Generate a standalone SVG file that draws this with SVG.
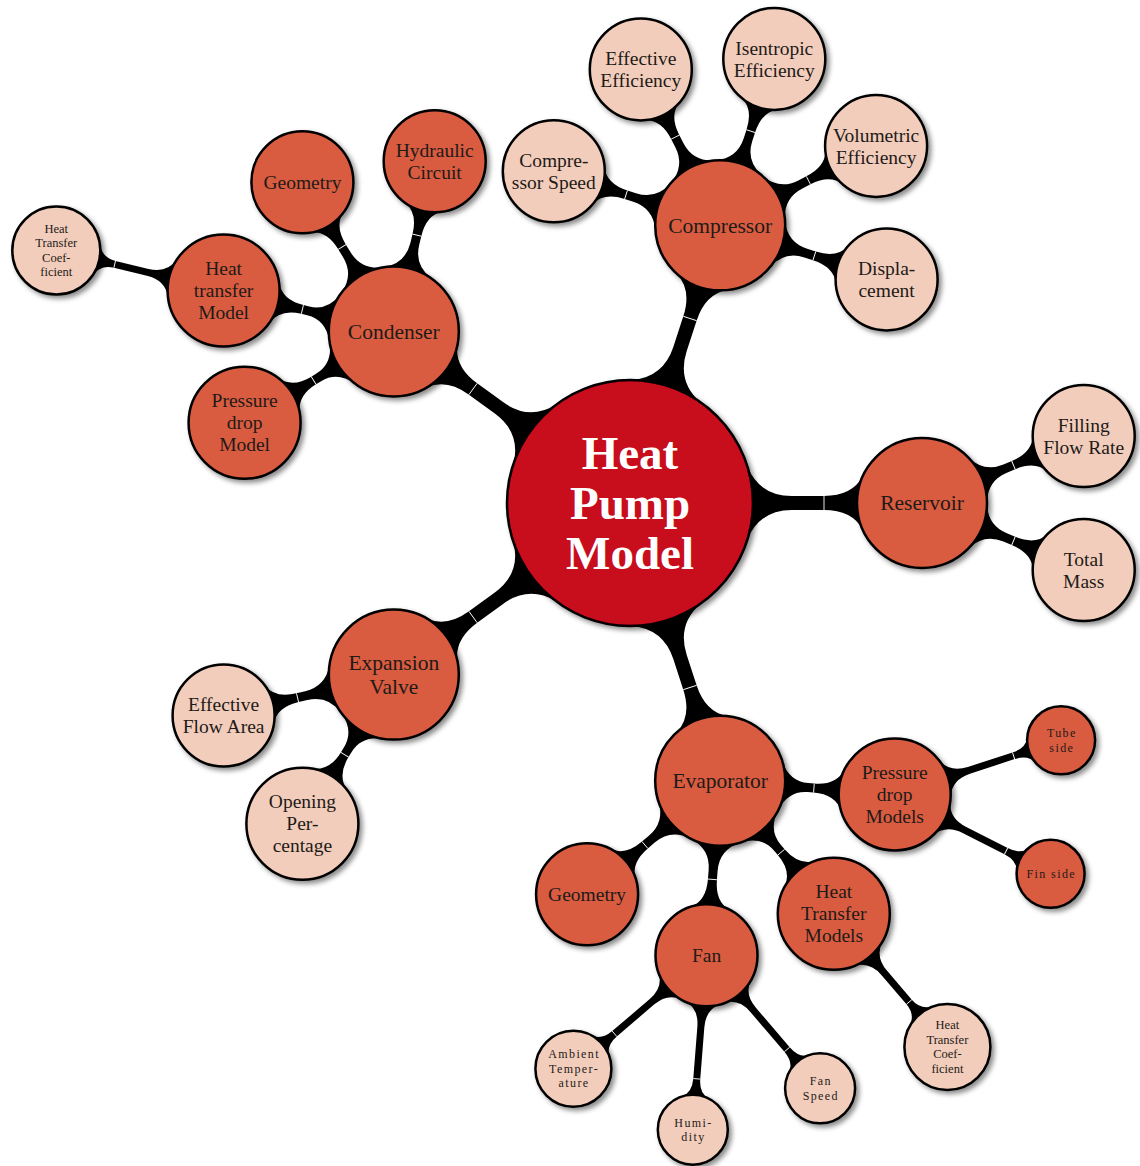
<svg xmlns="http://www.w3.org/2000/svg" width="1140" height="1166" viewBox="0 0 1140 1166">
  <style>
    .node { stroke: #000; stroke-width: 2.5; filter: url(#shadow); }
    .root { fill: #C8081E; }
    .mid { fill: #D95B41; }
    .leaf { fill: #F2CDBB; }
    text { font-family: "Liberation Serif", "Times New Roman", serif; text-anchor: middle; fill: #1e1a18; }
    .t0 { font-size: 47px; font-weight: bold; fill: #fff; }
    .t1 { font-size: 21.5px; }
    .t2 { font-size: 19.5px; }
    .t3 { font-size: 12.5px; }
    .t4 { font-size: 12px; letter-spacing: 1.4px; }
  </style>
  <defs>
    <filter id="shadow" x="-25%" y="-25%" width="160%" height="160%">
      <feGaussianBlur in="SourceAlpha" stdDeviation="2.5"/>
      <feOffset dx="3" dy="3" result="blur"/>
      <feFlood flood-color="#000" flood-opacity="0.45"/>
      <feComposite in2="blur" operator="in"/>
      <feMerge><feMergeNode/><feMergeNode in="SourceGraphic"/></feMerge>
    </filter>
    <!-- tapered connection bars, parent centre at origin, child centre on +x -->
    <g id="bar0">
      <path fill="#000" d="M0,0 L117.6,36 Q130,7 162,7 L194,7 Q222,7 232.6,26.4 L292,0 L232.6,-26.4 Q222,-7 194,-7 L162,-7 Q130,-7 117.6,-36 Z"/>
      <line x1="194" y1="-7" x2="194" y2="7" stroke="#fff" stroke-width="0.9"/>
    </g>
    <g id="bar1a">
      <path fill="#000" d="M0,0 L60.3,24.3 Q69,4.5 90,4.5 L99,4.5 Q121,4.5 127.7,19.1 L175,0 L127.7,-19.1 Q121,-4.5 99,-4.5 L90,-4.5 Q69,-4.5 60.3,-24.3 Z"/>
      <line x1="99" y1="-4.5" x2="99" y2="4.5" stroke="#fff" stroke-width="0.9"/>
    </g>
    <g id="bar1b">
      <path fill="#000" d="M0,0 L60.3,24.3 Q69,4.5 88,4.5 L94,4.5 Q116,4.5 123.1,21 L175,0 L123.1,-21 Q116,-4.5 94,-4.5 L88,-4.5 Q69,-4.5 60.3,-24.3 Z"/>
      <line x1="94" y1="-4.5" x2="94" y2="4.5" stroke="#fff" stroke-width="0.9"/>
    </g>
    <g id="bar2a">
      <path fill="#000" d="M0,0 L52.6,19.2 Q59,3.5 78,3.5 L112,3.5 Q126,3.5 131.2,16.5 L172,0 L131.2,-16.5 Q126,-3.5 112,-3.5 L78,-3.5 Q59,-3.5 52.6,-19.2 Z"/>
      <line x1="112" y1="-3.5" x2="112" y2="3.5" stroke="#fff" stroke-width="0.9"/>
    </g>
    <g id="bar2b">
      <path fill="#000" d="M0,0 L52.6,19.2 Q59,3.5 78,3.5 L125,3.5 Q139,3.5 143.5,12.7 L175,0 L143.5,-12.7 Q139,-3.5 125,-3.5 L78,-3.5 Q59,-3.5 52.6,-19.2 Z"/>
      <line x1="125" y1="-3.5" x2="125" y2="3.5" stroke="#fff" stroke-width="0.9"/>
    </g>
    <g id="bar2c">
      <path fill="#000" d="M0,0 L52.6,19.2 Q59,3.5 78,3.5 L116,3.5 Q130,3.5 135.1,16.1 L175,0 L135.1,-16.1 Q130,-3.5 116,-3.5 L78,-3.5 Q59,-3.5 52.6,-19.2 Z"/>
      <line x1="116" y1="-3.5" x2="116" y2="3.5" stroke="#fff" stroke-width="0.9"/>
    </g>
    <g id="bar2d">
      <path fill="#000" d="M0,0 L47.9,17.4 Q54,3.5 72,3.5 L121,3.5 Q135,3.5 139.8,14.2 L175,0 L139.8,-14.2 Q135,-3.5 121,-3.5 L72,-3.5 Q54,-3.5 47.9,-17.4 Z"/>
      <line x1="121" y1="-3.5" x2="121" y2="3.5" stroke="#fff" stroke-width="0.9"/>
    </g>
    <g id="bar2e">
      <path fill="#000" d="M0,0 L47.9,17.4 Q54,3.5 72,3.5 L124,3.5 Q138,3.5 142.5,13.1 L175,0 L142.5,-13.1 Q138,-3.5 124,-3.5 L72,-3.5 Q54,-3.5 47.9,-17.4 Z"/>
      <line x1="124" y1="-3.5" x2="124" y2="3.5" stroke="#fff" stroke-width="0.9"/>
    </g>
  </defs>

  <rect width="1140" height="1166" fill="#fff"/>

  <g id="connectors">
    <!-- root to first level -->
    <use href="#bar0" transform="translate(630 503) rotate(-72)"/>
    <use href="#bar0" transform="translate(630 503) rotate(-144)"/>
    <use href="#bar0" transform="translate(630 503) rotate(0)"/>
    <use href="#bar0" transform="translate(630 503) rotate(144)"/>
    <use href="#bar0" transform="translate(630 503) rotate(72)"/>
    <!-- compressor -->
    <use href="#bar1a" transform="translate(720.2 225.3) rotate(-162)"/>
    <use href="#bar1a" transform="translate(720.2 225.3) rotate(-117)"/>
    <use href="#bar1a" transform="translate(720.2 225.3) rotate(-72)"/>
    <use href="#bar1a" transform="translate(720.2 225.3) rotate(-27)"/>
    <use href="#bar1a" transform="translate(720.2 225.3) rotate(18)"/>
    <!-- condenser -->
    <use href="#bar1b" transform="translate(393.8 331.4) rotate(148.5)"/>
    <use href="#bar1b" transform="translate(393.8 331.4) rotate(193.5)"/>
    <use href="#bar1a" transform="translate(393.8 331.4) rotate(238.5)"/>
    <use href="#bar1a" transform="translate(393.8 331.4) rotate(283.5)"/>
    <use href="#bar2a" transform="translate(223.6 290.5) rotate(193.5)"/>
    <!-- reservoir -->
    <use href="#bar1a" transform="translate(922 503) rotate(-22.5)"/>
    <use href="#bar1a" transform="translate(922 503) rotate(22.5)"/>
    <!-- expansion valve -->
    <use href="#bar1a" transform="translate(393.8 674.6) rotate(166.5)"/>
    <use href="#bar1b" transform="translate(393.8 674.6) rotate(121.5)"/>
    <!-- evaporator -->
    <use href="#bar1b" transform="translate(720.2 780.7) rotate(4.5)"/>
    <use href="#bar1b" transform="translate(720.2 780.7) rotate(49.5)"/>
    <use href="#bar1a" transform="translate(720.2 780.7) rotate(94.5)"/>
    <use href="#bar1a" transform="translate(720.2 780.7) rotate(139.5)"/>
    <use href="#bar2b" transform="translate(894.7 794.4) rotate(-18)"/>
    <use href="#bar2b" transform="translate(894.7 794.4) rotate(27)"/>
    <use href="#bar2c" transform="translate(833.8 913.8) rotate(49.5)"/>
    <use href="#bar2d" transform="translate(706.5 955.2) rotate(139.5)"/>
    <use href="#bar2e" transform="translate(706.5 955.2) rotate(94.5)"/>
    <use href="#bar2e" transform="translate(706.5 955.2) rotate(49.5)"/>
  </g>

  <g id="heat-pump-model">
    <circle class="node root" cx="630" cy="503" r="123"/>
    <text class="t0"><tspan x="630" y="469">Heat</tspan><tspan x="630" y="519">Pump</tspan><tspan x="630" y="569">Model</tspan></text>
  </g>

  <!-- Compressor branch -->
  <g id="compressor">
    <circle class="node mid" cx="720.2" cy="225.3" r="65"/>
    <text class="t1" x="720.2" y="232.6">Compressor</text>
  </g>
  <g id="compressor-speed">
    <circle class="node leaf" cx="553.8" cy="171.2" r="51"/>
    <text class="t2"><tspan x="553.8" y="166.8">Compre-</tspan><tspan x="553.8" y="188.8">ssor Speed</tspan></text>
  </g>
  <g id="effective-efficiency">
    <circle class="node leaf" cx="640.8" cy="69.4" r="51"/>
    <text class="t2"><tspan x="640.8" y="65">Effective</tspan><tspan x="640.8" y="87">Efficiency</tspan></text>
  </g>
  <g id="isentropic-efficiency">
    <circle class="node leaf" cx="774.3" cy="58.9" r="51"/>
    <text class="t2"><tspan x="774.3" y="54.5">Isentropic</tspan><tspan x="774.3" y="76.5">Efficiency</tspan></text>
  </g>
  <g id="volumetric-efficiency">
    <circle class="node leaf" cx="876.1" cy="145.9" r="51"/>
    <text class="t2"><tspan x="876.1" y="141.5">Volumetric</tspan><tspan x="876.1" y="163.5">Efficiency</tspan></text>
  </g>
  <g id="displacement">
    <circle class="node leaf" cx="886.6" cy="279.4" r="51"/>
    <text class="t2"><tspan x="886.6" y="275">Displa-</tspan><tspan x="886.6" y="297">cement</tspan></text>
  </g>

  <!-- Condenser branch -->
  <g id="condenser">
    <circle class="node mid" cx="393.8" cy="331.4" r="65"/>
    <text class="t1" x="393.8" y="338.7">Condenser</text>
  </g>
  <g id="condenser-geometry">
    <circle class="node mid" cx="302.4" cy="182.2" r="51"/>
    <text class="t2" x="302.4" y="188.8">Geometry</text>
  </g>
  <g id="hydraulic-circuit">
    <circle class="node mid" cx="434.7" cy="161.2" r="51"/>
    <text class="t2"><tspan x="434.7" y="156.8">Hydraulic</tspan><tspan x="434.7" y="178.8">Circuit</tspan></text>
  </g>
  <g id="heat-transfer-model">
    <circle class="node mid" cx="223.6" cy="290.5" r="56"/>
    <text class="t2"><tspan x="223.6" y="275.1">Heat</tspan><tspan x="223.6" y="297.1">transfer</tspan><tspan x="223.6" y="319.1">Model</tspan></text>
  </g>
  <g id="condenser-htc">
    <circle class="node leaf" cx="56.3" cy="250.4" r="44"/>
    <text class="t3"><tspan x="56.3" y="232.9">Heat</tspan><tspan x="56.3" y="247.4">Transfer</tspan><tspan x="56.3" y="261.9">Coef-</tspan><tspan x="56.3" y="276.4">ficient</tspan></text>
  </g>
  <g id="pressure-drop-model">
    <circle class="node mid" cx="244.6" cy="422.8" r="56"/>
    <text class="t2"><tspan x="244.6" y="407.4">Pressure</tspan><tspan x="244.6" y="429.4">drop</tspan><tspan x="244.6" y="451.4">Model</tspan></text>
  </g>

  <!-- Reservoir branch -->
  <g id="reservoir">
    <circle class="node mid" cx="922" cy="503" r="65"/>
    <text class="t1" x="922" y="510.3">Reservoir</text>
  </g>
  <g id="filling-flow-rate">
    <circle class="node leaf" cx="1083.7" cy="436" r="51"/>
    <text class="t2"><tspan x="1083.7" y="431.6">Filling</tspan><tspan x="1083.7" y="453.6">Flow Rate</tspan></text>
  </g>
  <g id="total-mass">
    <circle class="node leaf" cx="1083.7" cy="570" r="51"/>
    <text class="t2"><tspan x="1083.7" y="565.6">Total</tspan><tspan x="1083.7" y="587.6">Mass</tspan></text>
  </g>

  <!-- Expansion valve branch -->
  <g id="expansion-valve">
    <circle class="node mid" cx="393.8" cy="674.6" r="65"/>
    <text class="t1"><tspan x="393.8" y="669.9">Expansion</tspan><tspan x="393.8" y="693.9">Valve</tspan></text>
  </g>
  <g id="effective-flow-area">
    <circle class="node leaf" cx="223.6" cy="715.5" r="51"/>
    <text class="t2"><tspan x="223.6" y="711.1">Effective</tspan><tspan x="223.6" y="733.1">Flow Area</tspan></text>
  </g>
  <g id="opening-percentage">
    <circle class="node leaf" cx="302.4" cy="823.8" r="56"/>
    <text class="t2"><tspan x="302.4" y="808.4">Opening</tspan><tspan x="302.4" y="830.4">Per-</tspan><tspan x="302.4" y="852.4">centage</tspan></text>
  </g>

  <!-- Evaporator branch -->
  <g id="evaporator">
    <circle class="node mid" cx="720.2" cy="780.7" r="65"/>
    <text class="t1" x="720.2" y="788">Evaporator</text>
  </g>
  <g id="pressure-drop-models">
    <circle class="node mid" cx="894.7" cy="794.4" r="56"/>
    <text class="t2"><tspan x="894.7" y="779">Pressure</tspan><tspan x="894.7" y="801">drop</tspan><tspan x="894.7" y="823">Models</tspan></text>
  </g>
  <g id="tube-side">
    <circle class="node mid" cx="1061.1" cy="740.3" r="34"/>
    <text class="t4"><tspan x="1061.8" y="737.2">Tube</tspan><tspan x="1061.8" y="751.7">side</tspan></text>
  </g>
  <g id="fin-side">
    <circle class="node mid" cx="1050.6" cy="873.8" r="34"/>
    <text class="t4" x="1051.3" y="877.9">Fin side</text>
  </g>
  <g id="heat-transfer-models">
    <circle class="node mid" cx="833.8" cy="913.8" r="56"/>
    <text class="t2"><tspan x="833.8" y="898.4">Heat</tspan><tspan x="833.8" y="920.4">Transfer</tspan><tspan x="833.8" y="942.4">Models</tspan></text>
  </g>
  <g id="evaporator-htc">
    <circle class="node leaf" cx="947.4" cy="1046.9" r="43"/>
    <text class="t3"><tspan x="947.4" y="1029.4">Heat</tspan><tspan x="947.4" y="1043.9">Transfer</tspan><tspan x="947.4" y="1058.4">Coef-</tspan><tspan x="947.4" y="1072.9">ficient</tspan></text>
  </g>
  <g id="fan">
    <circle class="node mid" cx="706.5" cy="955.2" r="51"/>
    <text class="t2" x="706.5" y="961.8">Fan</text>
  </g>
  <g id="ambient-temperature">
    <circle class="node leaf" cx="573.4" cy="1068.8" r="38"/>
    <text class="t4"><tspan x="574.1" y="1058.4">Ambient</tspan><tspan x="574.1" y="1072.9">Temper-</tspan><tspan x="574.1" y="1087.4">ature</tspan></text>
  </g>
  <g id="humidity">
    <circle class="node leaf" cx="692.8" cy="1129.7" r="35"/>
    <text class="t4"><tspan x="693.5" y="1126.6">Humi-</tspan><tspan x="693.5" y="1141.1">dity</tspan></text>
  </g>
  <g id="fan-speed">
    <circle class="node leaf" cx="820.1" cy="1088.3" r="35"/>
    <text class="t4"><tspan x="820.8" y="1085.2">Fan</tspan><tspan x="820.8" y="1099.7">Speed</tspan></text>
  </g>
  <g id="evaporator-geometry">
    <circle class="node mid" cx="587.1" cy="894.3" r="51"/>
    <text class="t2" x="587.1" y="900.9">Geometry</text>
  </g>
</svg>
